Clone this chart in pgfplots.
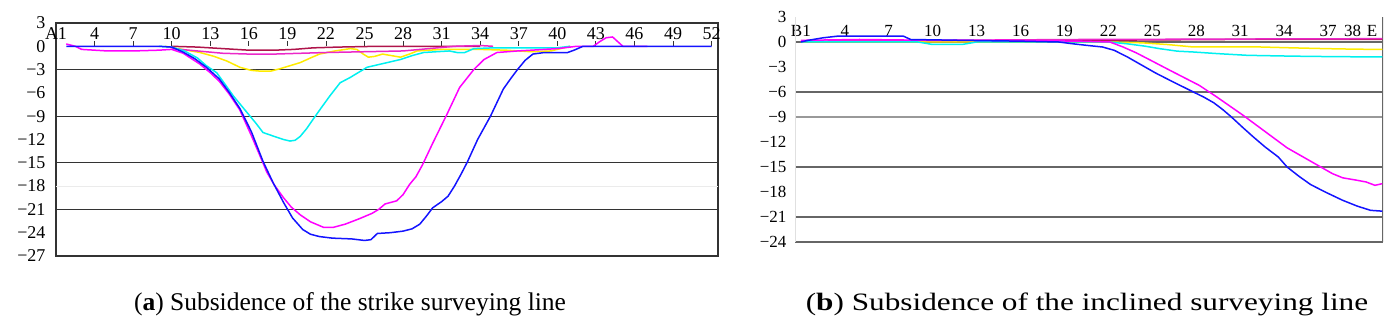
\documentclass[border=0pt]{standalone}
\usepackage{fontspec}
\setmainfont{Liberation Serif}
\newfontfamily\widefont[FakeStretch=1.25]{Liberation Serif}
\usepackage{pgfplots}
\pgfplotsset{compat=1.18}
\definecolor{cblue}{RGB}{20,20,255}
\definecolor{cmag}{RGB}{255,0,255}
\definecolor{ccyan}{RGB}{0,240,240}
\definecolor{cyel}{RGB}{255,235,0}
\definecolor{cdred}{RGB}{175,20,75}
\definecolor{cpink}{RGB}{235,40,200}
\begin{document}
\begin{tikzpicture}
\path[use as bounding box] (0,0) rectangle (1398pt,326pt);
% ---------------- panel (a)
\begin{axis}[
  at={(56pt,70pt)}, anchor=south west, scale only axis,
  width=662pt, height=233pt,
  xmin=1, xmax=52.5, ymin=-27, ymax=3,
  xtick={1,4,...,52},
  xticklabels={A1,4,7,10,13,16,19,22,25,28,31,34,37,40,43,46,49,52},
  xtick pos=right, xticklabel pos=right, tick align=inside, major tick length=5pt,
  xtick style={black!80, line width=0.8pt, yshift=-18.3pt},
  xticklabel style={anchor=center, yshift=-11pt, font=\fontsize{18}{18}\selectfont},
  ytick={3,0,-3,-6,-9,-12,-15,-18,-21,-24,-27},
  yticklabels={3,0,−3,−6,−9,−12,−15,−18,−21,−24,−27},
  ytick style={draw=none},
  yticklabel style={font=\fontsize{18}{18}\selectfont, xshift=-7pt},
  extra y ticks={-3,-9,-15,-21}, extra y tick labels={},
  extra y tick style={ymajorgrids=true, major tick length=0pt,
     major grid style={black!80, line width=1.3pt}},
  axis line style={black!80, line width=1.2pt},
  every axis plot/.append style={line width=1.5pt},
]
\draw[black!8, line width=1pt] (axis cs:1,-18) -- (axis cs:52.5,-18);
\addplot[cdred] coordinates {(10,0) (12,-0.1) (14,-0.3) (16,-0.5) (18,-0.5) (19.5,-0.4) (21,-0.2) (23,-0.1) (26,0) (32,0) (34,0)};
\addplot[cyel] coordinates {(9.5,0) (10.5,-0.3) (12.2,-0.8) (13.3,-1.3) (14.3,-1.9) (15.3,-2.7) (16.2,-3.1) (16.9,-3.2) (17.7,-3.2) (18.4,-2.9) (19.2,-2.5) (20,-2.1) (20.8,-1.5) (21.5,-1.0) (22.7,-0.6) (23.9,-0.3) (24.4,-0.4) (24.9,-1.0) (25.3,-1.4) (25.8,-1.3) (26.4,-1.0) (27.1,-1.2) (27.8,-1.4) (28.5,-1.0) (29.1,-0.6) (31,-0.4) (34,-0.4) (36,-0.5) (38,-0.7) (39.5,-0.6) (40.5,-0.2) (41,0)};
\addplot[cpink] coordinates {(10,-0.3) (12,-0.6) (14,-0.9) (16,-1.0) (18,-1.0) (20,-0.9) (22,-0.8) (25,-0.7) (28,-0.6) (30,-0.3) (32,0) (34,0.1) (35,0)};
\addplot[ccyan] coordinates {(9,0) (10,-0.1) (11,-0.6) (12,-1.5) (12.7,-2.5) (13.5,-3.4) (14.2,-5) (14.8,-6.4) (15.5,-7.8) (16.1,-9) (16.6,-10) (17.1,-11.1) (17.8,-11.5) (18.7,-12) (19.2,-12.2) (19.6,-12.1) (20,-11.6) (20.5,-10.6) (21,-9.4) (21.6,-8) (22.3,-6.4) (23.1,-4.7) (23.9,-4.0) (24.5,-3.4) (25.2,-2.7) (26.5,-2.2) (27.8,-1.7) (28.7,-1.2) (29.6,-0.8) (31.6,-0.6) (32.2,-0.8) (32.8,-0.8) (33.5,-0.3) (35,-0.2) (40,-0.2) (41,0)};
\addplot[cmag] coordinates {(1.8,0.3) (2.5,0) (3,-0.4) (5,-0.6) (7,-0.6) (9,-0.5) (10,-0.4) (10.9,-0.9) (12.2,-2.3) (13,-3.4) (13.7,-4.5) (14.5,-6.2) (15.3,-8.2) (16.2,-11.5) (17.1,-15) (17.4,-16.2) (18.0,-17.9) (18.7,-19.5) (19.3,-20.7) (20,-21.7) (20.8,-22.6) (21.8,-23.3) (22.6,-23.3) (23.5,-22.9) (24.6,-22.2) (25.6,-21.5) (26.1,-21) (26.6,-20.3) (27.5,-19.9) (28,-19.1) (28.5,-17.8) (29,-16.8) (29.5,-15.3) (30.3,-12.5) (31.4,-8.8) (32.4,-5.3) (33.5,-3) (34.3,-1.7) (35.3,-0.8) (36.9,-0.6) (38,-0.5) (40,-0.3) (41.5,0) (42.8,0) (43.3,0.6) (43.8,1.1) (44.3,1.2) (44.7,0.6) (45.1,0) (47,0)};
\addplot[cblue] coordinates {(1.8,0) (3,0) (5,0) (7,0) (9,0) (10,-0.1) (10.9,-0.75) (11.8,-1.6) (12.7,-2.7) (13.7,-4.2) (14.5,-6) (15.3,-8) (16.2,-11) (17.1,-14.8) (17.9,-17.6) (18.7,-20.1) (19.4,-22.1) (20.2,-23.6) (20.8,-24.2) (21.5,-24.5) (22.5,-24.7) (24.0,-24.8) (25.0,-25) (25.5,-24.9) (26.0,-24.1) (27,-24) (28,-23.8) (28.7,-23.5) (29.3,-22.9) (29.8,-21.9) (30.3,-20.8) (31.0,-20.0) (31.5,-19.3) (32.0,-18) (32.5,-16.5) (33.0,-14.9) (33.8,-12) (34.8,-9) (35.8,-5.5) (36.4,-4.1) (36.9,-3) (37.5,-1.8) (38.1,-1.0) (39,-0.8) (40.8,-0.8) (41.3,-0.5) (42,0) (45,0) (52,0)};
\end{axis}
% ---------------- panel (b)
\begin{axis}[
  at={(795pt,84pt)}, anchor=south west, scale only axis,
  width=588pt, height=225pt,
  xmin=0.6, xmax=40.75, ymin=-24, ymax=3,
  xtick={1,4,7,10,13,16,19,22,25,28,31,34,37,38.67,40},
  xticklabels={B1,4,7,10,13,16,19,22,25,28,31,34,37,38,E},
  xtick pos=right, xticklabel pos=right, xtick style={draw=none},
  xticklabel style={anchor=center, yshift=-14pt, font=\fontsize{17}{17}\selectfont},
  ytick={3,0,-3,-6,-9,-12,-15,-18,-21,-24},
  yticklabels={3,0,−3,−6,−9,−12,−15,−18,−21,−24},
  ytick style={draw=none},
  yticklabel style={font=\fontsize{17}{17}\selectfont, xshift=-5pt},
  extra y ticks={0,-6,-15,-21,-24}, extra y tick labels={},
  extra y tick style={ymajorgrids=true, major tick length=0pt,
     major grid style={black!60, line width=1.4pt}},
  axis line style={draw=none},
  every axis plot/.append style={line width=1.5pt},
]
\draw[black!40, line width=1.4pt] (axis cs:0.6,-9) -- (axis cs:40.75,-9);
\draw[black!60, line width=1.3pt] (rel axis cs:1,0) -- (rel axis cs:1,1);
\draw[black!12, line width=1pt] (rel axis cs:0,0) -- (rel axis cs:0,1);
\addplot[cdred] coordinates {(1,0) (10,0.1) (20,0.2) (30,0.3) (40.7,0.3)};
\addplot[cyel] coordinates {(1,0) (20,0) (22,0) (24.3,-0.1) (26,-0.3) (27.8,-0.6) (30,-0.6) (32.4,-0.6) (34.5,-0.7) (36.9,-0.8) (38.5,-0.85) (40.7,-0.9)};
\addplot[cpink] coordinates {(1,0.1) (20,0.3) (30,0.35) (40.7,0.4)};
\addplot[ccyan] coordinates {(1,0) (9,0) (10,-0.3) (12,-0.3) (13,0) (20,0) (22,0) (23.2,-0.2) (24.5,-0.5) (25.5,-0.8) (26.7,-1.1) (27.8,-1.2) (29.5,-1.4) (31.5,-1.6) (34.6,-1.7) (37,-1.75) (40.7,-1.8)};
\addplot[cmag] coordinates {(1,0.2) (5,0.3) (10,0.2) (15,0.2) (20,0.1) (22.1,0) (23,-0.6) (23.9,-1.3) (25,-2.3) (26.2,-3.4) (27.2,-4.3) (28.2,-5.2) (29.4,-6.6) (30.3,-7.7) (31.2,-8.8) (32.2,-10.1) (33.2,-11.4) (34.2,-12.7) (35.3,-13.8) (36.5,-15) (37.3,-15.8) (38,-16.3) (39,-16.6) (39.6,-16.8) (40.2,-17.2) (40.7,-17.0)};
\addplot[cblue] coordinates {(1,0) (1.5,0.2) (2.5,0.5) (3.5,0.7) (8,0.7) (8.5,0.3) (12,0.2) (16,0.1) (18.6,0) (19.5,-0.2) (20.5,-0.4) (21.6,-0.6) (22.4,-1.0) (23.3,-1.8) (24.3,-2.8) (25.2,-3.7) (26.2,-4.6) (27,-5.3) (27.8,-6) (28.5,-6.6) (29.2,-7.3) (29.8,-8.1) (30.4,-9) (31.2,-10.3) (31.9,-11.4) (32.7,-12.6) (33.6,-13.8) (34.2,-15) (35,-16.1) (35.8,-17.1) (36.8,-18) (38,-19) (39,-19.7) (39.9,-20.2) (40.7,-20.3)};
\end{axis}
% captions
\node[anchor=base, font=\fontsize{25.5}{26}\selectfont] at (350pt,15pt) {(\textbf{a}) Subsidence of the strike surveying line};
\node[anchor=base, font=\widefont\fontsize{25}{26}\selectfont] at (1087pt,15pt) {(\textbf{b}) Subsidence of the inclined surveying line};
\end{tikzpicture}
\end{document}
